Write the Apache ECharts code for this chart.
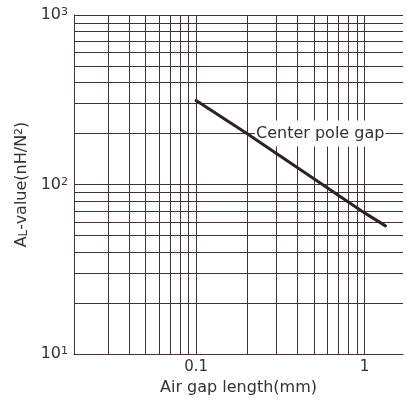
<!DOCTYPE html>
<html>
<head>
<meta charset="utf-8">
<script src="https://cdn.jsdelivr.net/npm/echarts@6/dist/echarts.min.js"></script>
<style>html,body{margin:0;padding:0;background:#fff}#c{width:406px;height:401px}</style>
</head>
<body>
<div id="c"></div>
<script>
// Data
var gapLength = [0.1, 0.2, 0.5, 1.0, 1.33];      // mm
var alValue   = [313, 200, 108, 68, 57];          // nH/N^2
var xGridValues = [0.03, 0.04, 0.05, 0.06, 0.07, 0.08, 0.09, 0.1, 0.2, 0.3, 0.4, 0.5, 0.6, 0.7, 0.8, 0.9, 1];
var yGridValues = [20, 30, 40, 50, 60, 70, 80, 90, 100, 200, 300, 400, 500, 600, 700, 800, 900, 1000];
var xTickLabels = ['0.1', '1'];
var yTickLabels = ['10', '100', '1000'];
var curveName = 'Center pole gap';
var labelPos = [0.545, 200];

var gridColor = '#3d3338';
var font = 'DejaVu Sans';

var chart = echarts.init(document.getElementById('c'));
function isDecade(v) { var l = Math.log10(v); return Math.abs(l - Math.round(l)) < 1e-6; }

chart.setOption({
  animation: false,
  backgroundColor: '#fff',
  textStyle: { fontFamily: font },
  grid: { left: 74, right: 0, top: 15, bottom: 47 },
  xAxis: {
    type: 'log', logBase: 10, min: 0.01884, max: 1.69,
    name: 'Air gap length(mm)', nameLocation: 'middle', nameGap: 25,
    nameTextStyle: { fontSize: 16, color: '#333', fontFamily: font },
    axisLine: { show: true, lineStyle: { color: gridColor, width: 1 } },
    axisTick: { show: false },
    splitLine: { show: false },
    minorTick: { show: false }, minorSplitLine: { show: false },
    axisLabel: {
      margin: 6, fontSize: 15, color: '#333', fontFamily: font,
      showMinLabel: true, showMaxLabel: true,
      formatter: function (v) {
        if (!isDecade(v)) return '';
        var s = String(Number(v.toPrecision(6)));
        return xTickLabels.indexOf(s) >= 0 ? s : '';
      }
    }
  },
  yAxis: {
    type: 'log', logBase: 10, min: 10, max: 1000,
    name: '{a|A}{l|L}{a|-value(nH/N}{s|2}{a|)}', nameLocation: 'middle', nameGap: 36,
    nameTextStyle: {
      color: '#333', fontFamily: font,
      rich: {
        a: { fontSize: 16, color: '#333', fontFamily: font, verticalAlign: 'bottom' },
        l: { fontSize: 12, color: '#333', fontFamily: font, verticalAlign: 'bottom' },
        s: { fontSize: 11, color: '#333', fontFamily: font, verticalAlign: 'top' }
      }
    },
    axisLine: { show: true, lineStyle: { color: gridColor, width: 1 } },
    axisTick: { show: false },
    splitLine: { show: false },
    axisLabel: {
      margin: 6, color: '#333', fontFamily: font,
      formatter: function (v) {
        if (!isDecade(v)) return '';
        var s = String(Math.round(v));
        if (yTickLabels.indexOf(s) < 0) return '';
        return '{b|10}{s|' + Math.round(Math.log10(v)) + '}';
      },
      rich: {
        b: { fontSize: 16, color: '#333', fontFamily: font, verticalAlign: 'bottom' },
        s: { fontSize: 11, color: '#333', fontFamily: font, verticalAlign: 'top' }
      }
    }
  },
  series: [
    {
      type: 'line', z: 1, silent: true,
      data: gapLength.map(function (x, i) { return [x, alValue[i]]; }),
      showSymbol: false, lineStyle: { opacity: 0 },
      markLine: {
        silent: true, symbol: ['none', 'none'], animation: false,
        label: { show: false },
        lineStyle: { color: gridColor, width: 1, type: 'solid' },
        emphasis: { disabled: true },
        data: xGridValues.map(function (v) { return { xAxis: v }; })
          .concat(yGridValues.map(function (v) { return { yAxis: v }; }))
      }
    },
    {
      type: 'line', z: 5, name: curveName,
      data: gapLength.map(function (x, i) { return [x, alValue[i]]; }),
      showSymbol: false,
      lineStyle: { color: '#2a2228', width: 3, cap: 'round' },
      markPoint: {
        silent: true, symbol: 'rect', symbolSize: 0, animation: false,
        label: {
          show: true, position: 'inside', formatter: curveName,
          fontSize: 16, color: '#333', fontFamily: font,
          backgroundColor: '#fff', padding: [5, 1]
        },
        data: [{ coord: labelPos }]
      }
    }
  ]
});
</script>
</body>
</html>
